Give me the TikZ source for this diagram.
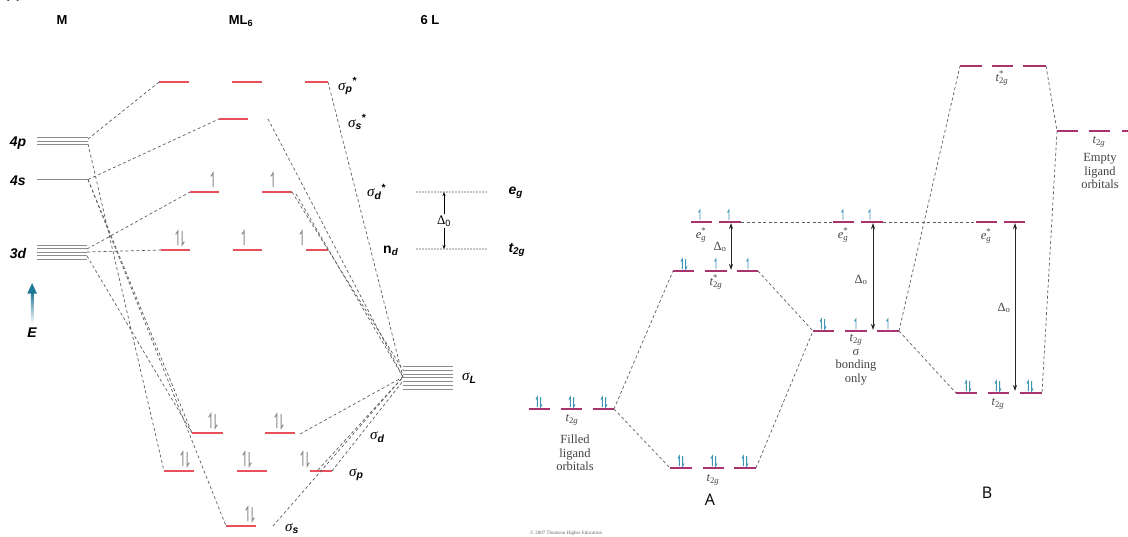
\documentclass[tikz,border=0pt]{standalone}
\usepackage{fontspec}
\setmainfont{Liberation Sans}
\newfontfamily\serif{Liberation Serif}
\newfontfamily\opensans{Open Sans}
\usetikzlibrary{arrows.meta}

\definecolor{lvlred}{HTML}{E8505B}
\definecolor{lvlmag}{HTML}{A8336E}
\definecolor{spinteal}{HTML}{3F96B4}
\definecolor{spingray}{HTML}{8A8A8A}
\definecolor{dashgray}{HTML}{5E5E5E}
\definecolor{txtgray}{HTML}{444444}
\definecolor{eteal}{HTML}{1F7896}

% one energy level: name, x from, x to, y, style
\newcommand\lev[5]{\coordinate (#1l) at (#2,#4); \coordinate (#1r) at (#3,#4); \draw[#5] (#1l) -- (#1r);}
% spin arrows: x, y of foot, length
\newcommand\spu[3]{\draw[spinst] (#1,#2) -- ++(0,-#3) -- ++({-0.15*#3},{0.24*#3});}
\newcommand\spd[3]{\draw[spinst] (#1,#2-#3) -- ++(0,#3) -- ++({0.15*#3},{-0.24*#3});}
\newcommand\spp[4]{\spu{#1-#4}{#2}{#3}\spd{#1+#4}{#2}{#3}}
% labels
\newcommand\sg[2]{{\serif\itshape σ}\textsubscript{\bfseries\itshape #1}\textsuperscript{\bfseries #2}}
\newcommand\tgs{{\itshape t}\makebox[0pt][l]{\textsuperscript{*}}\textsubscript{2\itshape g}}
\newcommand\tgn{{\itshape t}\textsubscript{2\itshape g}}
\newcommand\egs{{\itshape e}\makebox[0pt][l]{\textsuperscript{*}}\textsubscript{\itshape g}}

\begin{document}
\begin{tikzpicture}[x=1pt,y=-1pt,
  redlvl/.style={draw=lvlred, line width=2.4pt},
  maglvl/.style={draw=lvlmag, line width=1.6pt},
  metlvl/.style={draw=black!45, line width=0.8pt},
  conn/.style={draw=dashgray, dash pattern=on 3pt off 2.5pt, line width=0.7pt},
  dotl/.style={draw=black, line width=1.2pt, line cap=round, dash pattern=on 0pt off 3pt},
  hd/.style={font=\bfseries\fontsize{13}{15}\selectfont},
  ml/.style={font=\bfseries\itshape\fontsize{14}{16}\selectfont},
  sgl/.style={font=\fontsize{15}{17}\selectfont, anchor=west, inner sep=0pt},
  rtx/.style={font=\serif\fontsize{12.5}{13.5}\selectfont, text=txtgray, inner sep=0pt},
  rbig/.style={font=\serif\fontsize{12.5}{13.5}\selectfont, text=txtgray, align=center, inner sep=0pt},
  dbl/.style={{Stealth[length=6pt,width=4pt]}-{Stealth[length=6pt,width=4pt]}, line width=0.8pt, draw=black!85},
  smarr/.style={-{Stealth[length=4pt,width=3pt]}, line width=0.6pt},
  spinst/.style={draw=spingray, line width=1pt}]
\useasboundingbox (0,0) rectangle (1128,536);
\fill[white] (0,0) rectangle (1128,536);

%% ================= left: sigma-only MO diagram =================
\node[hd] (cap) at (13,-5) {(a)};
\node[hd] (hM) at (62,20) {M};
\node[hd] (hML) at (241,21) {ML\textsubscript{6}};
\node[hd] (hL) at (430,20) {6 L};

% metal orbitals
\foreach \yy in {137.5,141,144.5} \draw[metlvl] (37,\yy) -- (88,\yy);
\draw[metlvl] (37,179.5) -- (88,179.5);
\foreach \yy in {245,248.5,252,255.5,259} \draw[metlvl] (37,\yy) -- (87,\yy);
\coordinate (p4) at (88,139);
\coordinate (p4b) at (88,144);
\coordinate (s4) at (88,179.5);
\coordinate (d3t) at (87,249);
\coordinate (d3m) at (87,252);
\coordinate (d3b) at (87,256);
\node[ml] (l4p) at (18,143) {4p};
\node[ml] (l4s) at (18,181) {4s};
\node[ml] (l3d) at (18,253) {3d};

% energy axis
\shade[top color=eteal, bottom color=white] (30.8,292) rectangle (33.4,324);
\fill[eteal] (32.1,283) -- (27.3,293.5) -- (36.9,293.5) -- cycle;
\node[ml] (lE) at (32,333) {E};

% ligand orbitals
\foreach \yy in {366.5,370.25,374,377.75,381.5,385.25,389} \draw[metlvl] (403,\yy) -- (453,\yy);
\coordinate (sigL) at (403,377);
\coordinate (sigLt) at (403,370);
\coordinate (sigLb) at (403,381);
\node[sgl] (lsL) at (462,378) {\sg{L}{}};

% complex levels
\lev{spA}{159}{189}{82}{redlvl}
\lev{spB}{232}{262}{82}{redlvl}
\lev{spC}{305}{328}{82}{redlvl}
\lev{ss}{219}{248}{119}{redlvl}
\lev{sdsA}{190}{219}{192}{redlvl}
\lev{sdsB}{262}{292}{192}{redlvl}
\lev{ndA}{161}{190}{250}{redlvl}
\lev{ndB}{233}{262}{250}{redlvl}
\lev{ndC}{306}{328}{250}{redlvl}
\lev{bdA}{192}{223}{433}{redlvl}
\lev{bdB}{265}{295}{433}{redlvl}
\lev{bpA}{164}{194}{471}{redlvl}
\lev{bpB}{237}{267}{471}{redlvl}
\lev{bpC}{310}{332}{471}{redlvl}
\lev{bs}{226}{256}{526}{redlvl}

\node[sgl] (lsp) at (338,86) {\sg{p}{*}};
\node[sgl] (lss) at (348,122) {\sg{s}{*}};
\node[sgl] (lsd) at (367,192) {\sg{d}{*}};
\node[sgl, font=\bfseries\fontsize{14}{16}\selectfont] (lnd) at (383,251) {n\textsubscript{\itshape d}};
\node[sgl] (lbd) at (370,437) {\sg{d}{}};
\node[sgl] (lbp) at (349,475) {\sg{p}{}};
\node[sgl] (lbs) at (285,529) {\sg{s}{}};

% electrons
\spu{213}{187}{14}
\spu{273}{187}{14}
\spp{180}{245}{14}{2.2}
\spu{244}{245}{14}
\spu{302}{245}{14}
\spp{213}{428}{14}{2.2}
\spp{279}{428}{14}{2.2}
\spp{185}{466}{14}{2.2}
\spp{247}{466}{14}{2.2}
\spp{305}{466}{14}{2.2}
\spp{250}{521}{14}{2.2}

% correlation lines
\draw[conn] (p4) -- (spAl);
\draw[conn] (s4) -- (ssl);
\draw[conn] (d3t) -- (sdsAl);
\draw[conn] (d3m) -- (ndAl);
\draw[conn] (p4b) -- (bpAl);
\draw[conn] (s4) -- (bsl);
\draw[conn] (s4) -- (bdAl);
\draw[conn] (d3b) -- (bdAl);
\coordinate (ssx) at (268,119);
\coordinate (sdx) at (296,194);
\coordinate (bdx) at (300,434);
\coordinate (bpx) at (318,470);
\coordinate (bsx) at (273,526);
\draw[conn] (spCr) -- (sigL);
\draw[conn] (ssx) -- (sigL);
\draw[conn] (sdsBr) -- (sigLt);
\draw[conn] (sdx) -- (sigL);
\draw[conn] (bdx) -- (sigL);
\draw[conn] (bpCr) -- (sigLb);
\draw[conn] (bpx) -- (sigL);
\draw[conn] (bsx) -- (sigL);

% splitting of the d block
\coordinate (egA) at (417,192); \coordinate (egB) at (487,192);
\coordinate (tgA) at (417,249); \coordinate (tgB) at (487,249);
\draw[dotl] (egA) -- (egB);
\draw[dotl] (tgA) -- (tgB);
\node[font=\fontsize{13}{15}\selectfont, inner sep=1pt] (lD0) at (444,221) {{\serif Δ}\textsubscript{0}};
\draw[smarr] (lD0.north) -- (lD0.north |- egA);
\draw[smarr] (lD0.south) -- (lD0.south |- tgA);
\node[ml, anchor=west] (leg) at (505,193) {e\textsubscript{g}};
\node[ml, anchor=west] (ltg) at (505,250) {t\textsubscript{2g}};

%% ================= right: pi donor / pi acceptor =================
\begin{scope}[spinst/.style={draw=spinteal, line width=0.9pt}]
% filled ligand t2g
\lev{fA}{529}{550}{409}{maglvl}
\lev{fB}{561}{582}{409}{maglvl}
\lev{fC}{593}{614}{409}{maglvl}
% case A
\lev{aeA}{691}{712}{222}{maglvl}
\lev{aeB}{719}{741}{222}{maglvl}
\lev{atA}{673}{694}{271}{maglvl}
\lev{atB}{705}{727}{271}{maglvl}
\lev{atC}{737}{758}{271}{maglvl}
\lev{abA}{670}{692}{468}{maglvl}
\lev{abB}{703}{724}{468}{maglvl}
\lev{abC}{734}{756}{468}{maglvl}
% sigma bonding only
\lev{beA}{833}{854}{222}{maglvl}
\lev{beB}{861}{883}{222}{maglvl}
\lev{bmA}{813}{834}{331}{maglvl}
\lev{bmB}{845}{867}{331}{maglvl}
\lev{bmC}{877}{899}{331}{maglvl}
% case B
\lev{reA}{976}{997}{222}{maglvl}
\lev{reB}{1004}{1025}{222}{maglvl}
\lev{ttA}{960}{982}{66}{maglvl}
\lev{ttB}{992}{1013}{66}{maglvl}
\lev{ttC}{1023}{1046}{66}{maglvl}
\lev{rbA}{956}{977}{393}{maglvl}
\lev{rbB}{988}{1009}{393}{maglvl}
\lev{rbC}{1020}{1042}{393}{maglvl}
% empty ligand t2g
\lev{elA}{1057}{1078}{131}{maglvl}
\lev{elB}{1089}{1110}{131}{maglvl}
\lev{elC}{1122}{1140}{131}{maglvl}

% electrons
\spp{539}{407}{10}{1.6}
\spp{572}{407}{10}{1.6}
\spp{604}{407}{10}{1.6}
\spu{700}{220}{10}
\spu{729}{220}{10}
\spp{684}{269}{10}{1.6}
\spu{716}{269}{10}
\spu{748}{269}{10}
\spp{681}{466}{10}{1.6}
\spp{714}{466}{10}{1.6}
\spp{745}{466}{10}{1.6}
\spu{843}{220}{10}
\spu{870}{220}{10}
\spp{823}{329}{10}{1.6}
\spu{856}{329}{10}
\spu{888}{329}{10}
\spp{968}{391}{10}{1.6}
\spp{998}{391}{10}{1.6}
\spp{1030}{391}{10}{1.6}
\end{scope}

% correlation lines
\draw[conn] (aeBr) -- (beAl);
\draw[conn] (beBr) -- (reAl);
\draw[conn] (fCr) -- (atAl);
\draw[conn] (fCr) -- (abAl);
\draw[conn] (atCr) -- (bmAl);
\draw[conn] (abCr) -- (bmAl);
\draw[conn] (bmCr) -- (ttAl);
\draw[conn] (bmCr) -- (rbAl);
\draw[conn] (ttCr) -- (elAl);
\draw[conn] (elAl) -- (rbCr);

% splittings
\coordinate (dAt) at (731,223); \coordinate (dAb) at (731,270);
\coordinate (dBt) at (873,223); \coordinate (dBb) at (873,330);
\coordinate (dCt) at (1015,223); \coordinate (dCb) at (1015,391);
\draw[dbl] (dAt) -- (dAb);
\draw[dbl] (dBt) -- (dBb);
\draw[dbl] (dCt) -- (dCb);
\node[rtx] (lDA) at (720,247) {Δ\textsubscript{o}};
\node[rtx] (lDB) at (861,280) {Δ\textsubscript{o}};
\node[rtx] (lDC) at (1004,308) {Δ\textsubscript{o}};

% level labels
\node[rtx] (lfA) at (572,420) {\tgn};
\node[rbig] (lfB) at (575,453) {Filled\\ligand\\orbitals};
\node[rtx] (laA) at (701,235) {\egs};
\node[rtx] (laB) at (716,282) {\tgs};
\node[rtx] (laC) at (713,480) {\tgn};
\node[font=\opensans\fontsize{16}{18}\selectfont] (lA) at (710,500) {A};
\node[rtx] (lbA) at (843,235) {\egs};
\node[rbig] (lbB) at (856,360) {\tgn\\σ\\bonding\\only};
\node[rtx] (lcA) at (986,236) {\egs};
\node[rtx] (lcB) at (1002,78) {\tgs};
\node[rtx] (lcC) at (998,404) {\tgn};
\node[rtx] (lcD) at (1099,142) {\tgn};
\node[rbig] (lcE) at (1100,171) {Empty\\ligand\\orbitals};
\node[font=\opensans\fontsize{16}{18}\selectfont] (lB) at (987,493) {B};
\node[font=\serif\fontsize{5}{6}\selectfont, text=black!60, anchor=west, inner sep=0pt] (cpy) at (530,533) {© 2007 Thomson Higher Education};
\end{tikzpicture}
\end{document}
